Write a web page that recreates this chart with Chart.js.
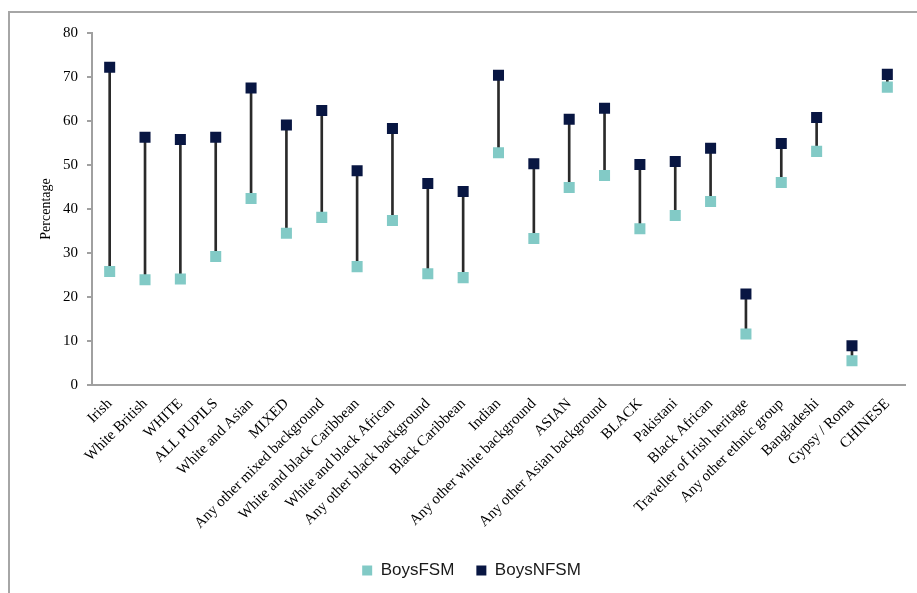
<!DOCTYPE html>
<html>
<head>
<meta charset="utf-8">
<script src="https://cdn.jsdelivr.net/npm/chart.js@4.4.1/dist/chart.umd.min.js"></script>
<style>
  html, body { margin: 0; padding: 0; background: #ffffff; overflow: hidden; }
  #frame { position: absolute; left: 8px; top: 11px; width: 1000px; height: 1000px;
           border: 2px solid #a6a6a6; box-sizing: border-box; }
  #wrap { position: absolute; left: 0; top: 0; width: 917px; height: 593px; }
</style>
</head>
<body>
<div id="frame"></div>
<div id="wrap"><canvas id="chart" width="917" height="593"></canvas></div>
<script>
// Attainment by ethnic group, boys eligible / not eligible for free school meals
const categories = [
  "Irish", "White British", "WHITE", "ALL PUPILS", "White and Asian", "MIXED",
  "Any other mixed background", "White and black Caribbean", "White and black African",
  "Any other black background", "Black Caribbean", "Indian", "Any other white background",
  "ASIAN", "Any other Asian background", "BLACK", "Pakistani", "Black African",
  "Traveller of Irish heritage", "Any other ethnic group", "Bangladeshi", "Gypsy / Roma", "CHINESE"
];
const boysFSM = [25.8, 23.9, 24.1, 29.2, 42.4, 34.5, 38.1, 26.9, 37.4, 25.3, 24.4, 52.8, 33.3,
  44.9, 47.6, 35.5, 38.5, 41.7, 11.6, 46.0, 53.1, 5.5, 67.7];
const boysNFSM = [72.2, 56.3, 55.8, 56.3, 67.5, 59.1, 62.4, 48.7, 58.3, 45.8, 44.0, 70.4, 50.3,
  60.4, 62.9, 50.1, 50.8, 53.8, 20.7, 54.9, 60.8, 8.9, 70.6];
const yTicks = { min: 0, max: 80, step: 10 };

// connector spans from FSM to NFSM value for each group
const spans = boysFSM.map((v, i) => [v, boysNFSM[i]]);

const serif = "'Liberation Serif', 'Times New Roman', serif";
const axisGrey = '#a0a0a0';

new Chart(document.getElementById('chart'), {
  data: {
    labels: categories,
    datasets: [
      {
        type: 'bar', label: 'range', data: spans,
        backgroundColor: '#2a2a2a', borderWidth: 0,
        barThickness: 2, order: 3
      },
      {
        type: 'line', label: 'BoysFSM', data: boysFSM, showLine: false,
        pointStyle: 'rect', pointRadius: 7.8, pointHoverRadius: 7.8,
        backgroundColor: '#82cac6', borderColor: '#82cac6', borderWidth: 0, order: 2
      },
      {
        type: 'line', label: 'BoysNFSM', data: boysNFSM, showLine: false,
        pointStyle: 'rect', pointRadius: 7.8, pointHoverRadius: 7.8,
        backgroundColor: '#081642', borderColor: '#081642', borderWidth: 0, order: 1
      }
    ]
  },
  options: {
    responsive: false,
    animation: false,
    layout: { padding: { left: 38, right: 12, top: 33, bottom: 4 } },
    plugins: {
      tooltip: { enabled: false },
      legend: {
        position: 'bottom',
        labels: {
          filter: item => item.text !== 'range',
          sort: (a, b) => a.datasetIndex - b.datasetIndex,
          boxWidth: 10, boxHeight: 10, padding: 22,
          color: '#1a1a1a',
          font: { family: "'Liberation Sans', Arial, sans-serif", size: 17 }
        }
      }
    },
    scales: {
      x: {
        offset: true,
        grid: { display: false },
        border: { color: axisGrey, width: 2 },
        ticks: {
          autoSkip: false, maxRotation: 45, minRotation: 45, padding: 2,
          color: '#000', font: { family: serif, size: 15 }
        },
        afterFit: s => { s.height = 155; }
      },
      y: {
        min: yTicks.min, max: yTicks.max,
        grid: { drawOnChartArea: false, drawTicks: true, tickLength: 5, color: axisGrey, lineWidth: 2 },
        border: { color: axisGrey, width: 2 },
        ticks: { stepSize: yTicks.step, padding: 9, color: '#000', font: { family: serif, size: 15 } },
        title: {
          display: true, text: 'Percentage', color: '#000',
          font: { family: serif, size: 14 }, padding: { top: 0, bottom: 0 }
        },
        afterFit: s => { s.width = 54; }
      }
    }
  }
});
</script>
</body>
</html>
